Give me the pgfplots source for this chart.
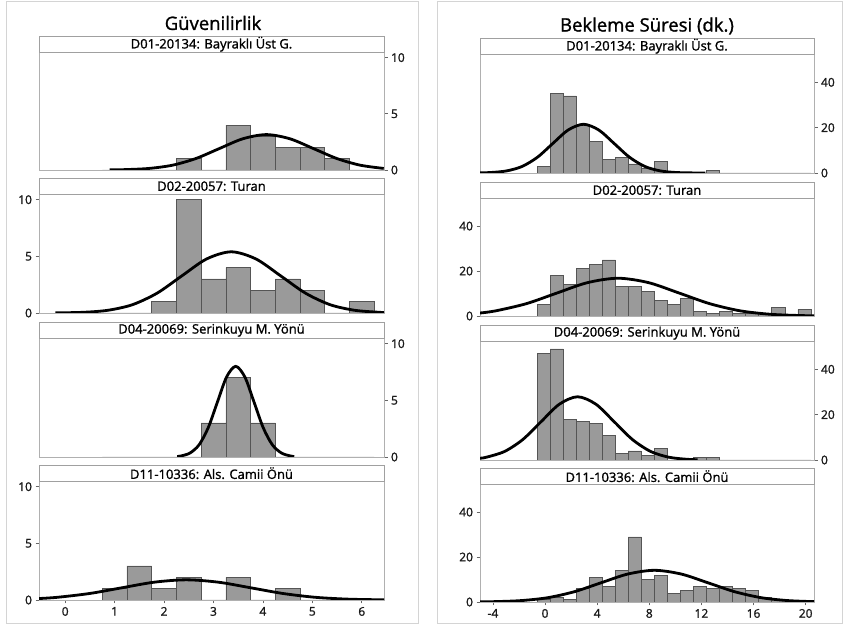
\documentclass[border=0pt]{standalone}
\usepackage{fontspec}
\setmainfont{Open Sans}
\newfontfamily\sbfont[FakeBold=1.3]{Open Sans}
\usepackage{pgfplots}
\pgfplotsset{compat=1.18}
\definecolor{framegray}{HTML}{B0B0B0}
\definecolor{stripgray}{HTML}{A0A0A0}
\definecolor{boxgray}{HTML}{D4D4D4}
\definecolor{barfill}{HTML}{9A9A9A}
\definecolor{bardraw}{HTML}{555555}
\definecolor{tickgray}{HTML}{666666}
\pgfplotsset{
  panel/.style={
    scale only axis, anchor=south west, ymin=0,
    axis line style={draw=framegray, line width=0.8pt},
    xtick=\empty, tick align=outside, major tick length=3.5pt,
    tick style={draw=tickgray, line width=0.7pt},
    tick label style={font=\fontsize{12}{12}\selectfont\sbfont, text=black!90},
    clip=true,
  },
  leftcol/.style={panel, width=345pt, xmin=-0.53, xmax=6.45, ymax=10.5,
    ytick={0,5,10}, yticklabels={0,5,10}},
  rightcol/.style={panel, width=334pt, xmin=-4.99, xmax=20.64, ymax=52.5,
    ytick={0,20,40}, yticklabels={0,20,40}},
  onright/.style={ytick pos=right, yticklabel pos=right},
  onleft/.style={ytick pos=left, yticklabel pos=left},
  hist/.style={ybar interval, fill=barfill, draw=bardraw, line width=0.6pt},
  base/.style={bardraw, line width=0.9pt, no markers},
  curve/.style={smooth, black, line width=2.8pt, no markers},
}
\newcommand{\strip}[2]{%
  \draw[stripgray, fill=white, line width=0.8pt] (#1.north west) rectangle ([yshift=15.5pt]#1.north east);
  \node[font=\fontsize{13}{13}\selectfont\sbfont, inner sep=0pt] at ([yshift=7.8pt]#1.north) {#2};}
\begin{document}
\begin{tikzpicture}
\path[use as bounding box, fill=white] (0pt,0pt) rectangle (848pt,628pt);
\draw[boxgray, line width=1pt] (6pt,4pt) rectangle (418pt,626pt);
\draw[boxgray, line width=1pt] (437pt,4pt) rectangle (842pt,626pt);
\node[font=\fontsize{18.5}{20}\selectfont\sbfont] at (213pt,605pt) {Güvenilirlik};
\node[font=\fontsize{18.5}{20}\selectfont\sbfont] at (647pt,602pt) {Bekleme Süresi (dk.)};

% ---------- Left column ----------
\begin{axis}[leftcol, onright, name=L1, at={(39pt,458pt)}, height=118pt]
\addplot[hist] coordinates {(0.75,0) (1.25,0) (1.75,0) (2.25,1) (2.75,0) (3.25,4) (3.75,3) (4.25,2) (4.75,2) (5.25,1) (5.75,0) (6.25,0)};
\addplot[base] coordinates {(0.75,0) (6.25,0)};
\addplot[curve] coordinates {(0.9,0.012) (1.22,0.035) (1.695,0.138) (2.17,0.426) (2.645,1.023) (3.12,1.910) (3.595,2.780) (4.07,3.15) (4.545,2.780) (5.02,1.910) (5.495,1.023) (5.97,0.426) (6.445,0.138)};
\end{axis}
\strip{L1}{D01-20134: Bayraklı Üst G.}

\begin{axis}[leftcol, onleft, name=L2, at={(39pt,315pt)}, height=119pt]
\addplot[hist] coordinates {(0.75,0) (1.25,0) (1.75,1) (2.25,10) (2.75,3) (3.25,4) (3.75,2) (4.25,3) (4.75,2) (5.25,0) (5.75,1) (6.25,0)};
\addplot[base] coordinates {(0.75,0) (6.25,0)};
\addplot[curve] coordinates {(-0.2,0.01) (0.36,0.06) (0.86,0.237) (1.36,0.731) (1.86,1.753) (2.36,3.275) (2.86,4.766) (3.36,5.4) (3.86,4.766) (4.36,3.275) (4.86,1.753) (5.36,0.731) (5.86,0.237) (6.36,0.06) (6.45,0.046)};
\end{axis}
\strip{L2}{D02-20057: Turan}

\begin{axis}[leftcol, onright, name=L3, at={(39pt,171pt)}, height=119pt]
\addplot[hist] coordinates {(0.75,0) (1.25,0) (1.75,0) (2.25,0) (2.75,3) (3.25,7) (3.75,3) (4.25,0) (4.75,0) (5.25,0) (5.75,0) (6.25,0)};
\addplot[base] coordinates {(0.75,0) (6.25,0)};
\addplot[curve] coordinates {(2.266,0.048) (2.34,0.089) (2.525,0.351) (2.71,1.082) (2.895,2.598) (3.08,4.852) (3.265,7.06) (3.45,8.0) (3.635,7.06) (3.82,4.852) (4.005,2.598) (4.19,1.082) (4.375,0.351) (4.56,0.089) (4.634,0.048)};
\end{axis}
\strip{L3}{D04-20069: Serinkuyu M. Yönü}

\begin{axis}[leftcol, onleft, name=L4, at={(39pt,28pt)}, height=119pt,
  xtick={0,1,2,3,4,5,6}, xticklabels={0,1,2,3,4,5,6}, xtick pos=left, xticklabel pos=left]
\addplot[hist] coordinates {(0.75,1) (1.25,3) (1.75,1) (2.25,2) (2.75,0) (3.25,2) (3.75,0) (4.25,1) (4.75,0) (5.25,0) (5.75,0) (6.25,0)};
\addplot[base] coordinates {(0.75,0) (6.25,0)};
\addplot[curve] coordinates {(-0.527,0.129) (-0.15,0.241) (0.5,0.578) (1.15,1.080) (1.8,1.571) (2.45,1.78) (3.1,1.571) (3.75,1.080) (4.4,0.578) (5.05,0.241) (5.7,0.078) (6.35,0.020) (6.454,0.015)};
\end{axis}
\strip{L4}{D11-10336: Als. Camii Önü}

% ---------- Right column ----------
\begin{axis}[rightcol, onright, name=R1, at={(480pt,455pt)}, height=119pt]
\addplot[hist] coordinates {(-0.6,3) (0.4,35) (1.4,34) (2.4,21) (3.4,14) (4.4,6) (5.4,7) (6.4,4) (7.4,2) (8.4,5) (9.4,0) (10.4,0) (11.4,0) (12.4,1) (13.4,0) (14.4,0) (15.4,0) (16.4,0) (17.4,0) (18.4,0) (19.4,0) (20.4,0)};
\addplot[base] coordinates {(-0.6,0) (20.4,0)};
\addplot[curve] coordinates {(-4.99,0.062) (-4.1,0.239) (-2.925,0.944) (-1.75,2.909) (-0.575,6.981) (0.6,13.04) (1.775,18.97) (2.95,21.5) (4.125,18.97) (5.3,13.04) (6.475,6.981) (7.65,2.909) (8.825,0.944) (10.0,0.239) (11.175,0.047) (12.3,0.008)};
\end{axis}
\strip{R1}{D01-20134: Bayraklı Üst G.}

\begin{axis}[rightcol, onleft, name=R2, at={(480pt,312pt)}, height=118pt]
\addplot[hist] coordinates {(-0.6,5) (0.4,18) (1.4,14) (2.4,21) (3.4,23) (4.4,25) (5.4,13) (6.4,13) (7.4,11) (8.4,7) (9.4,5) (10.4,8) (11.4,2) (12.4,1) (13.4,2) (14.4,1) (15.4,1) (16.4,1) (17.4,4) (18.4,0) (19.4,3) (20.4,0)};
\addplot[base] coordinates {(-0.6,0) (20.4,0)};
\addplot[curve] coordinates {(-4.99,1.33) (-3.8,2.273) (-1.45,5.455) (0.9,10.19) (3.25,14.83) (5.6,16.8) (7.95,14.83) (10.3,10.19) (12.65,5.455) (15.0,2.273) (17.35,0.738) (19.7,0.186) (20.64,0.101)};
\end{axis}
\strip{R2}{D02-20057: Turan}

\begin{axis}[rightcol, onright, name=R3, at={(480pt,168pt)}, height=119pt]
\addplot[hist] coordinates {(-0.6,47) (0.4,49) (1.4,18) (2.4,17) (3.4,16) (4.4,11) (5.4,3) (6.4,4) (7.4,2) (8.4,5) (9.4,0) (10.4,0) (11.4,1) (12.4,1) (13.4,0) (14.4,0) (15.4,0) (16.4,0) (17.4,0) (18.4,0) (19.4,0) (20.4,0)};
\addplot[base] coordinates {(-0.6,0) (20.4,0)};
\addplot[curve] coordinates {(-4.99,0.78) (-4.5,1.225) (-3.1,3.775) (-1.7,9.059) (-0.3,16.92) (1.1,24.62) (2.5,27.9) (3.9,24.62) (5.3,16.92) (6.7,9.059) (8.1,3.775) (9.5,1.225) (10.9,0.31) (11.71,0.123)};
\end{axis}
\strip{R3}{D04-20069: Serinkuyu M. Yönü}

\begin{axis}[rightcol, onleft, name=R4, at={(480pt,26pt)}, height=118pt,
  xtick={-4,0,4,8,12,16,20}, xticklabels={-4,0,4,8,12,16,20}, xtick pos=left, xticklabel pos=left]
\addplot[hist] coordinates {(-0.6,1) (0.4,2) (1.4,1) (2.4,6) (3.4,11) (4.4,7) (5.4,14) (6.4,29) (7.4,10) (8.4,12) (9.4,4) (10.4,5) (11.4,7) (12.4,6) (13.4,7) (14.4,6) (15.4,5) (16.4,2) (17.4,1) (18.4,0) (19.4,0) (20.4,0)};
\addplot[base] coordinates {(-0.6,0) (20.4,0)};
\addplot[curve] coordinates {(-4.99,0.068) (-3.9,0.157) (-1.85,0.619) (0.2,1.908) (2.25,4.578) (4.3,8.552) (6.35,12.44) (8.4,14.1) (10.45,12.44) (12.5,8.552) (14.55,4.578) (16.6,1.908) (18.65,0.619) (20.64,0.164)};
\end{axis}
\strip{R4}{D11-10336: Als. Camii Önü}
\end{tikzpicture}
\end{document}
